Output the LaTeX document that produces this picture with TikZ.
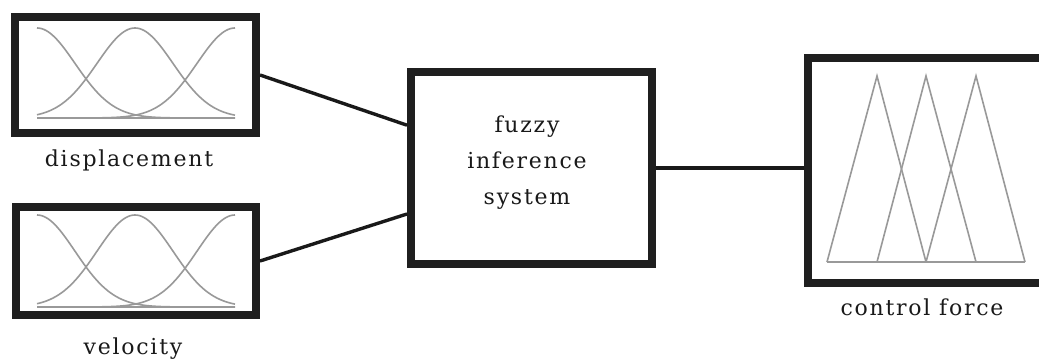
\documentclass[tikz,border=0pt]{standalone}
\usepackage{fontspec}
\setmainfont[LetterSpace=8]{DejaVu Serif}
\usetikzlibrary{calc}
\tikzset{
  block/.style={draw=black!88, line width=8pt, fill=white, inner sep=0pt},
  link/.style={draw=black!90, line width=3.4pt},
  mf/.style={draw=black!40, line width=1.6pt},
  caption/.style={font=\fontsize{22}{26}\selectfont, text=black!90}
}
\begin{document}
\begin{tikzpicture}[x=1pt, y=-1pt]
  \useasboundingbox (0,0) rectangle (1039,359);
  \begin{scope}
    \clip (0,0) rectangle (1039,359);

    % input and inference blocks
    \node[block, minimum width=241pt, minimum height=116pt] (disp) at (135.5,75) {};
    \node[block, minimum width=240pt, minimum height=108pt] (vel) at (136,261) {};
    \node[block, minimum width=241pt, minimum height=192pt] (fis) at (531.5,168) {};
    \node[align=center, font=\fontsize{22}{36}\selectfont, text=black!90]
      (fistext) at (527,163) {fuzzy\\inference\\system};
    % output block, running past the right edge
    \node[block, minimum width=252pt, minimum height=225pt] (ctrl) at (934,170.5) {};

    % captions
    \node[caption] (dlab) at (129,160) {displacement};
    \node[caption] (vlab) at (133,349) {velocity};
    \node[caption] (clab) at (922,307) {control force};

    % connectors
    \draw[link] (disp.east) -- ($(fis.north west)!0.286!(fis.south west)$);
    \draw[link] (vel.east) -- ($(fis.north west)!0.73!(fis.south west)$);
    \draw[link] (fis.east) -- (fis.east -| ctrl.west);

    % gaussian membership functions: displacement
    \foreach \c in {37,135,235} {
      \draw[mf] plot[domain=37:235, samples=90, smooth]
        (\x, {118 - 90*exp(-0.5*((\x-\c)/38)^2)});
    }
    \draw[mf] (37,118) -- (235,118);

    % gaussian membership functions: velocity
    \foreach \c in {37,135,235} {
      \draw[mf] plot[domain=37:235, samples=90, smooth]
        (\x, {307 - 92*exp(-0.5*((\x-\c)/38)^2)});
    }
    \draw[mf] (37,307) -- (235,307);

    % triangular membership functions: control force
    \draw[mf, line join=miter] (827,262) -- (877,76) -- (926,262);
    \draw[mf, line join=miter] (877,262) -- (926,76) -- (976,262);
    \draw[mf, line join=miter] (926,262) -- (976,76) -- (1025,262);
    \draw[mf] (827,262) -- (1025,262);
  \end{scope}
\end{tikzpicture}
\end{document}
